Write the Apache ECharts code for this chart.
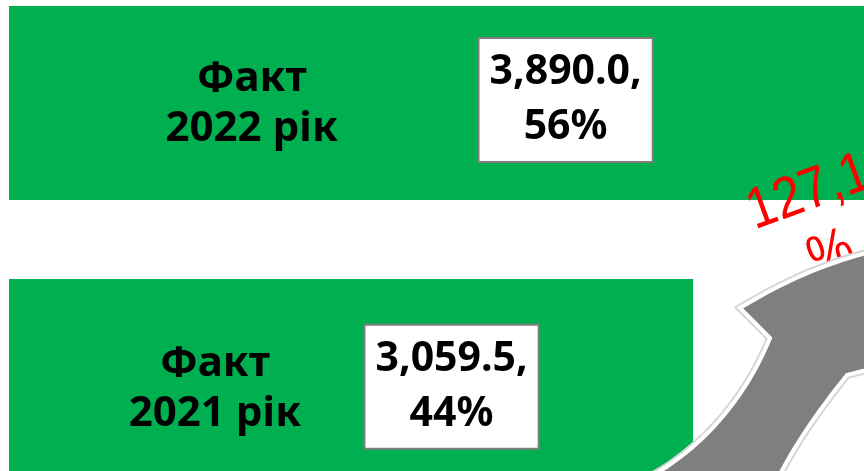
<!DOCTYPE html>
<html>
<head>
<meta charset="utf-8">
<script src="https://cdn.jsdelivr.net/npm/echarts@6/dist/echarts.min.js"></script>
<style>
  html, body { margin: 0; padding: 0; background: #ffffff; }
  #chart { width: 864px; height: 471px; }
</style>
</head>
<body>
<div id="chart"></div>
<script>
// ---- data ----
const categories = ['Факт\n2022 рік', 'Факт\n2021 рік'];
const values = [3890.0, 3059.5];
const shares = [56, 44];
const growthLabel = ['127,1', '%'];

// ---- label placement (style, kept apart from data) ----
const valueLabelPos = [['64%', '48.5%'], ['64.7%', '55.5%']];
const nameLabelPos = [['27.9%', '50.5%'], ['30.1%', '56.7%']];

const fmt = v => v.toLocaleString('en-US', { minimumFractionDigits: 1, maximumFractionDigits: 1 });

// decorative arrow outline (cubic bezier segments sampled into a polygon)
function bez(p0, p1, p2, p3, n) {
  const pts = [];
  for (let i = 0; i <= n; i++) {
    const t = i / n, u = 1 - t;
    pts.push([
      u*u*u*p0[0] + 3*u*u*t*p1[0] + 3*u*t*t*p2[0] + t*t*t*p3[0],
      u*u*u*p0[1] + 3*u*u*t*p1[1] + 3*u*t*t*p2[1] + t*t*t*p3[1]
    ]);
  }
  return pts;
}
const arrowPts = [].concat(
  bez([648, 478], [700, 450], [745, 400], [770, 338], 24),
  [[740, 308]],
  bez([740, 308], [790, 278], [835, 258], [905, 244], 24),
  [[905, 360], [847, 375]],
  bez([847, 375], [815, 415], [795, 445], [778, 478], 16)
);

const chart = echarts.init(document.getElementById('chart'), null, { renderer: 'canvas' });

const valueData = values.map((v, i) => ({
  value: v,
  label: { position: valueLabelPos[i] }
}));
const nameData = values.map((v, i) => ({
  value: v,
  label: { position: nameLabelPos[i] }
}));

chart.setOption({
  animation: false,
  backgroundColor: '#ffffff',
  grid: {
    left: 9, right: -39.3, top: -33.5, bottom: -41.5,
    containLabel: false, outerBoundsMode: 'none'
  },
  xAxis: { type: 'value', min: 0, max: 4000, show: false },
  yAxis: { type: 'category', data: categories, inverse: true, show: false },
  series: [
    {
      type: 'bar',
      data: valueData,
      barWidth: 194,
      itemStyle: { color: '#00B050' },
      emphasis: { disabled: true },
      z: 2,
      label: {
        show: true,
        align: 'center',
        verticalAlign: 'middle',
        formatter: p => fmt(p.value) + ',\n' + shares[p.dataIndex] + '%',
        fontFamily: '"Noto Sans", sans-serif',
        fontWeight: 'bold',
        fontSize: 41,
        lineHeight: 55,
        color: '#000000',
        backgroundColor: '#ffffff',
        borderColor: '#7f7f7f',
        borderWidth: 2,
        padding: [6, 10, 6, 10]
      }
    },
    {
      type: 'bar',
      data: nameData,
      barWidth: 194,
      barGap: '-100%',
      itemStyle: { color: 'transparent' },
      emphasis: { disabled: true },
      z: 3,
      label: {
        show: true,
        align: 'center',
        verticalAlign: 'middle',
        formatter: p => p.name,
        fontFamily: '"Noto Sans", sans-serif',
        fontWeight: 'bold',
        fontSize: 42,
        lineHeight: 50,
        color: '#000000'
      }
    }
  ],
  graphic: [
    {
      type: 'text',
      x: 820,
      y: 224,
      rotation: 20 * Math.PI / 180,
      scaleX: 0.87,
      z: 10,
      style: {
        text: growthLabel.join('\n'),
        fill: '#ff0000',
        fontFamily: '"Liberation Sans", Arial, sans-serif',
        fontSize: 58,
        lineHeight: 66,
        align: 'center',
        verticalAlign: 'middle'
      }
    },
    {
      type: 'polygon',
      z: 19,
      shape: { points: arrowPts },
      style: {
        fill: '#7f7f7f',
        stroke: '#d6d6d6',
        lineWidth: 8
      }
    },
    {
      type: 'polygon',
      z: 20,
      shape: { points: arrowPts },
      style: {
        fill: '#7f7f7f',
        stroke: '#ffffff',
        lineWidth: 4
      }
    }
  ]
});
</script>
</body>
</html>
